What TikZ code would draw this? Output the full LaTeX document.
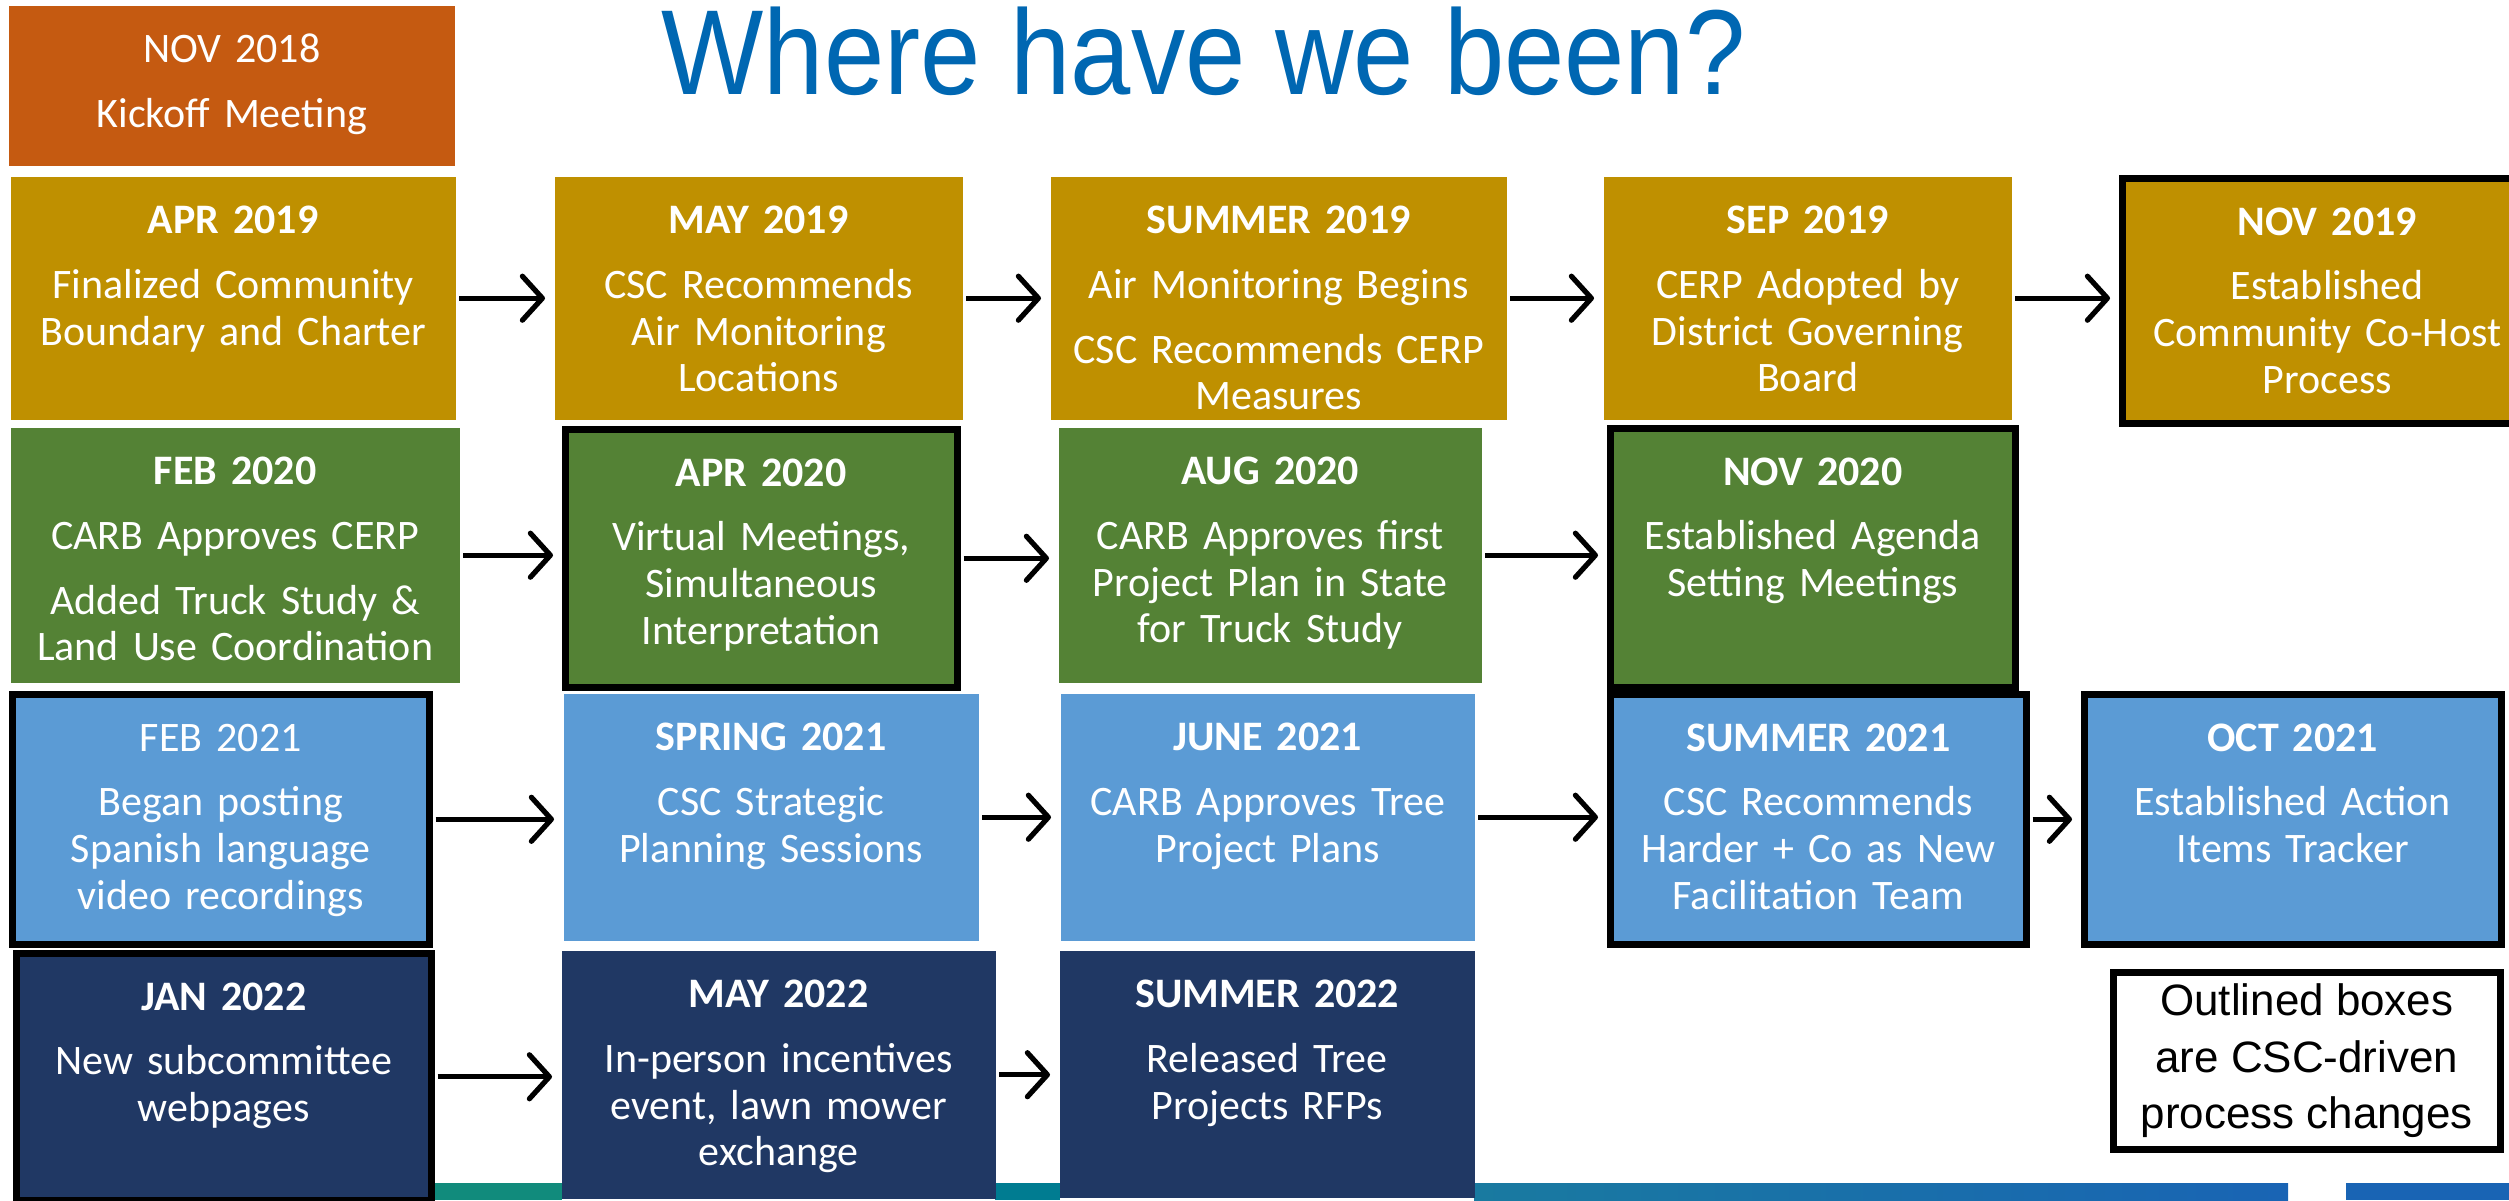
\documentclass[tikz,border=0pt]{standalone}
\usepackage{graphicx}
\usepackage{fontspec}
\setmainfont{Carlito}
\newfontfamily\arialfont{Liberation Sans}
\usetikzlibrary{arrows.meta}
\definecolor{titleblue}{RGB}{0,103,178}
\definecolor{rust}{RGB}{197,90,17}
\definecolor{gold}{RGB}{191,144,0}
\definecolor{leaf}{RGB}{84,130,53}
\definecolor{sky}{RGB}{91,155,213}
\definecolor{navy}{RGB}{32,56,100}
\definecolor{tealgreen}{RGB}{17,139,124}
\definecolor{tealblue}{RGB}{0,124,145}
\definecolor{stripa}{RGB}{25,122,160}
\definecolor{stripb}{RGB}{25,100,180}

\begin{document}
\begin{tikzpicture}[
    box/.style={rectangle, anchor=north west, align=center, text=white,
      font=\fontsize{11.95pt}{13.29pt}\selectfont, text height=0.57cm},
    csc/.style={draw=black, line width=0.065cm},
    flow/.style={-{Straight Barb[length=0.2cm,width=0.44cm,round]}, line width=0.052cm,
      shorten <=0.03cm, shorten >=0.09cm}]
        \tikzstyle{every node}+=[inner sep=0pt]
        \useasboundingbox (0,0) rectangle (25.09,-12);
        \clip (0,0) rectangle (25.09,-12);
        % bottom strips
        \fill [tealgreen] (4.33,-11.83) rectangle (5.62,-12);
        \fill [tealblue] (9.95,-11.83) rectangle (10.60,-12);
        \shade [left color=stripa, right color=stripb] (14.74,-11.83) rectangle (22.88,-12);
        \fill [stripb] (23.46,-11.83) rectangle (25.09,-12);
        \node [text=titleblue, anchor=base, font=\arialfont\fontsize{34.4pt}{40pt}\selectfont] (title) at (12.035,-0.94) {\scalebox{0.896}[1]{Where have we been?}};
        \node [box, fill=rust, text width=4.46cm, text depth=1.03cm] (nov18) at (0.08,-0.05) {NOV 2018\\[0.18cm]Kickoff Meeting};
        % 2019
        \node [box, fill=gold, text width=4.45cm, text depth=1.86cm] (apr19) at (0.10,-1.76) {\textbf{APR 2019}\\[0.18cm]Finalized Community\\Boundary and Charter};
        \node [box, fill=gold, text width=4.08cm, text depth=1.86cm] (may19) at (5.54,-1.76) {\textbf{MAY 2019}\\[0.18cm]CSC Recommends\\Air Monitoring\\Locations};
        \node [box, fill=gold, text width=4.56cm, text depth=1.86cm] (sum19) at (10.50,-1.76) {\textbf{SUMMER 2019}\\[0.18cm]Air Monitoring Begins\\[0.18cm]CSC Recommends CERP\\Measures};
        \node [box, fill=gold, text width=4.08cm, text depth=1.86cm] (sep19) at (16.03,-1.76) {\textbf{SEP 2019}\\[0.18cm]CERP Adopted by\\District Governing\\Board};
        \node [box, csc, fill=gold, text width=4.10cm, text depth=1.88cm] (nov19) at (21.19,-1.75) {\textbf{NOV 2019}\\[0.18cm]Established\\Community Co-Host\\Process};
        % 2020
        \node [box, fill=leaf, text width=4.49cm, text depth=1.98cm] (feb20) at (0.10,-4.27) {\textbf{FEB 2020}\\[0.18cm]CARB Approves CERP\\[0.18cm]Added Truck Study \&\\Land Use Coordination};
        \node [box, csc, fill=leaf, text width=3.92cm, text depth=2.01cm] (apr20) at (5.62,-4.26) {\textbf{APR 2020}\\[0.18cm]Virtual Meetings,\\Simultaneous\\Interpretation};
        \node [box, fill=leaf, text width=4.23cm, text depth=1.98cm] (aug20) at (10.58,-4.27) {\textbf{AUG 2020}\\[0.18cm]CARB Approves first\\Project Plan in State\\for Truck Study};
        \node [box, csc, fill=leaf, text width=4.05cm, text depth=2.02cm] (nov20) at (16.07,-4.25) {\textbf{NOV 2020}\\[0.18cm]Established Agenda\\Setting Meetings};
        % 2021
        \node [box, csc, fill=sky, text width=4.17cm, text depth=1.93cm] (feb21) at (0.09,-6.91) {FEB 2021\\[0.18cm]Began posting\\Spanish language\\video recordings};
        \node [box, fill=sky, text width=4.15cm, text depth=1.90cm] (spr21) at (5.63,-6.93) {\textbf{SPRING 2021}\\[0.18cm]CSC Strategic\\Planning Sessions};
        \node [box, fill=sky, text width=4.14cm, text depth=1.90cm] (jun21) at (10.60,-6.93) {\textbf{JUNE 2021}\\[0.18cm]CARB Approves Tree\\Project Plans};
        \node [box, csc, fill=sky, text width=4.16cm, text depth=1.93cm] (sum21) at (16.07,-6.91) {\textbf{SUMMER 2021}\\[0.18cm]CSC Recommends\\Harder + Co as New\\Facilitation Team};
        \node [box, csc, fill=sky, text width=4.17cm, text depth=1.93cm] (oct21) at (20.81,-6.91) {\textbf{OCT 2021}\\[0.18cm]Established Action\\Items Tracker};
        % 2022
        \node [box, csc, fill=navy, text width=4.15cm, text depth=1.90cm] (jan22) at (0.13,-9.50) {\textbf{JAN 2022}\\[0.18cm]New subcommittee\\webpages};
        \node [box, fill=navy, text width=4.34cm, text depth=1.91cm] (may22) at (5.61,-9.50) {\textbf{MAY 2022}\\[0.18cm]In-person incentives\\event, lawn mower\\exchange};
        \node [box, fill=navy, text width=4.15cm, text depth=1.90cm] (sum22) at (10.59,-9.50) {\textbf{SUMMER 2022}\\[0.18cm]Released Tree\\Projects RFPs};
        \node [rectangle, anchor=north west, csc, fill=white, minimum width=3.87cm, minimum height=1.77cm, align=center, font=\arialfont\fontsize{12.5pt}{16pt}\selectfont] (key) at (21.10,-9.69) {Outlined boxes\\are CSC-driven\\process changes};
        \draw [flow] (apr19.east) -- (apr19.east -| may19.west);
        \draw [flow] (may19.east) -- (may19.east -| sum19.west);
        \draw [flow] (sum19.east) -- (sum19.east -| sep19.west);
        \draw [flow] (sep19.east) -- (sep19.east -| nov19.west);
        \draw [flow] (feb20.east) -- (feb20.east -| apr20.west);
        \draw [flow] (apr20.east) -- (apr20.east -| aug20.west);
        \draw [flow] (aug20.east) -- (aug20.east -| nov20.west);
        \draw [flow] (feb21.east) -- (feb21.east -| spr21.west);
        \draw [flow] (spr21.east) -- (spr21.east -| jun21.west);
        \draw [flow] (jun21.east) -- (jun21.east -| sum21.west);
        \draw [flow] (sum21.east) -- (sum21.east -| oct21.west);
        \draw [flow] (jan22.east) -- (jan22.east -| may22.west);
        \draw [flow] (may22.east) -- (may22.east -| sum22.west);
\end{tikzpicture}
\end{document}
